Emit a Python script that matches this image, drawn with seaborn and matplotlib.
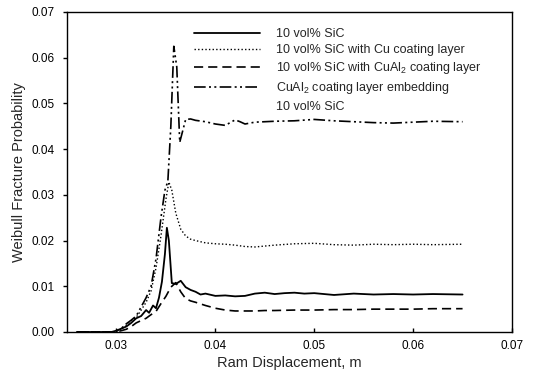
import matplotlib
matplotlib.use("Agg")
import matplotlib.pyplot as plt
from matplotlib.lines import Line2D
import numpy as np
import pandas as pd
import seaborn as sns

# ---- data ----
x_sic = [0.026, 0.0295, 0.030, 0.031, 0.0315, 0.032, 0.0325, 0.033, 0.0333, 0.0337,
         0.034, 0.0343, 0.0346, 0.0349, 0.0351, 0.0353, 0.0356, 0.0360, 0.0365, 0.0370,
         0.0375, 0.038, 0.0385, 0.039, 0.040, 0.041, 0.042, 0.043, 0.044, 0.045,
         0.046, 0.047, 0.048, 0.049, 0.050, 0.052, 0.054, 0.056, 0.058, 0.060, 0.062, 0.065]
y_sic = [0, 0, 0.0003, 0.0012, 0.002, 0.003, 0.0035, 0.0048, 0.0042, 0.0058,
         0.0052, 0.0075, 0.011, 0.017, 0.0228, 0.020, 0.0107, 0.0105, 0.0112, 0.0098,
         0.0092, 0.0088, 0.0082, 0.0084, 0.0079, 0.0080, 0.0078, 0.0079, 0.0084, 0.0086,
         0.0083, 0.0085, 0.0086, 0.0084, 0.0085, 0.0081, 0.0084, 0.0082, 0.0083, 0.0082, 0.0083, 0.0082]

x_cu = [0.026, 0.0298, 0.0305, 0.031, 0.0315, 0.032, 0.0325, 0.033, 0.0335, 0.034,
        0.0345, 0.035, 0.0353, 0.0356, 0.036, 0.0365, 0.037, 0.0375, 0.038, 0.039,
        0.040, 0.041, 0.042, 0.043, 0.044, 0.045, 0.046, 0.048, 0.050, 0.052,
        0.054, 0.056, 0.058, 0.060, 0.062, 0.065]
y_cu = [0, 0, 0.0006, 0.0015, 0.0025, 0.0032, 0.0048, 0.0065, 0.009, 0.014,
        0.021, 0.029, 0.0328, 0.031, 0.026, 0.0225, 0.021, 0.0203, 0.020, 0.0195,
        0.0193, 0.0192, 0.019, 0.0187, 0.0186, 0.0188, 0.019, 0.0193, 0.0194, 0.0191,
        0.0190, 0.0192, 0.0191, 0.0192, 0.0191, 0.0192]

x_cual2 = [0.026, 0.030, 0.031, 0.0315, 0.032, 0.0325, 0.033, 0.0335, 0.034, 0.0345,
           0.035, 0.0355, 0.036, 0.0365, 0.037, 0.0375, 0.038, 0.039, 0.040, 0.041,
           0.042, 0.043, 0.044, 0.045, 0.046, 0.048, 0.050, 0.052, 0.054, 0.056,
           0.058, 0.060, 0.062, 0.065]
y_cual2 = [0, 0, 0.0006, 0.0012, 0.002, 0.0025, 0.003, 0.0038, 0.0045, 0.0062,
           0.0078, 0.0098, 0.0108, 0.0088, 0.0073, 0.0068, 0.0065, 0.0058, 0.0052, 0.0048,
           0.0046, 0.0046, 0.0046, 0.0047, 0.0047, 0.0048, 0.0048, 0.0049, 0.0049, 0.0050,
           0.0050, 0.0050, 0.0051, 0.0051]

x_embed = [0.026, 0.0298, 0.0305, 0.031, 0.0315, 0.032, 0.0325, 0.033, 0.0335, 0.034,
           0.0345, 0.0349, 0.0352, 0.0355, 0.0358, 0.0361, 0.0364, 0.0367, 0.037, 0.0375,
           0.038, 0.039, 0.040, 0.041, 0.042, 0.0425, 0.043, 0.044, 0.045, 0.046,
           0.048, 0.050, 0.052, 0.054, 0.056, 0.058, 0.060, 0.062, 0.065]
y_embed = [0, 0, 0.0008, 0.0018, 0.0026, 0.0035, 0.0055, 0.0075, 0.010, 0.016,
           0.025, 0.031, 0.033, 0.045, 0.0625, 0.058, 0.0415, 0.044, 0.0465, 0.0466,
           0.0463, 0.046, 0.0455, 0.0452, 0.0464, 0.046, 0.0455, 0.0459, 0.046, 0.0461,
           0.0462, 0.0465, 0.0462, 0.046, 0.0458, 0.0457, 0.0459, 0.0461, 0.046]

labels = ["10 vol% SiC",
          "10 vol% SiC with Cu coating layer",
          "10 vol% SiC with CuAl$_2$ coating layer",
          "CuAl$_2$ coating layer embedding",
          "10 vol% SiC"]
x_ticks = [0.03, 0.04, 0.05, 0.06, 0.07]
y_ticks = [0.00, 0.01, 0.02, 0.03, 0.04, 0.05, 0.06, 0.07]

# ---- style ----
sns.set_style("ticks")
plt.rcParams["font.family"] = ["Liberation Sans", "DejaVu Sans"]
plt.rcParams["mathtext.fontset"] = "custom"
plt.rcParams["mathtext.rm"] = "Liberation Sans"
plt.rcParams["mathtext.it"] = "Liberation Sans:italic"
plt.rcParams["mathtext.bf"] = "Liberation Sans:bold"

fig = plt.figure(figsize=(5.37, 3.84), dpi=100)
ax = fig.add_axes([67 / 537, 1 - 332 / 384, 445 / 537, 320 / 384])

series = [
    (x_sic, y_sic, "-", 1.3),
    (x_cu, y_cu, (0, (1, 1.6)), 1.0),
    (x_cual2, y_cual2, (0, (5.5, 3)), 1.2),
    (x_embed, y_embed, (0, (7, 2, 1.2, 2, 1.2, 2)), 1.2),
]
for (xs, ys, ls, lw), lab in zip(series, labels[:4]):
    df = pd.DataFrame({"x": xs, "y": ys})
    sns.lineplot(data=df, x="x", y="y", ax=ax, color="black", linestyle=ls,
                 linewidth=lw, label=lab)

ax.set_xlim(0.025, 0.07)
ax.set_ylim(0.0, 0.07)
ax.set_xticks(x_ticks)
ax.set_xticklabels([f"{t:.2f}" for t in x_ticks])
ax.set_yticks(y_ticks)
ax.set_yticklabels([f"{t:.2f}" for t in y_ticks])
ax.tick_params(axis="x", direction="in", length=3, width=1, labelsize=8.5, pad=6, colors="black")
ax.tick_params(axis="y", direction="out", length=3, width=1, labelsize=8.5, pad=6, colors="black")
for s in ax.spines.values():
    s.set_visible(True)
    s.set_linewidth(1.0)
    s.set_color("black")

ax.set_xlabel("Ram Displacement, m", fontsize=10.5, labelpad=3)
ax.set_ylabel("Weibull Fracture Probability", fontsize=10.5, labelpad=4)

handles = list(ax.get_lines()[:4]) + [Line2D([], [], color="none")]
leg = ax.legend(handles, labels, loc="upper left", bbox_to_anchor=(0.285, 0.95),
                frameon=False, fontsize=9, handlelength=5.3, handletextpad=1.3,
                labelspacing=0.33, borderpad=0, borderaxespad=0)

fig.savefig("out.png", dpi=100)
